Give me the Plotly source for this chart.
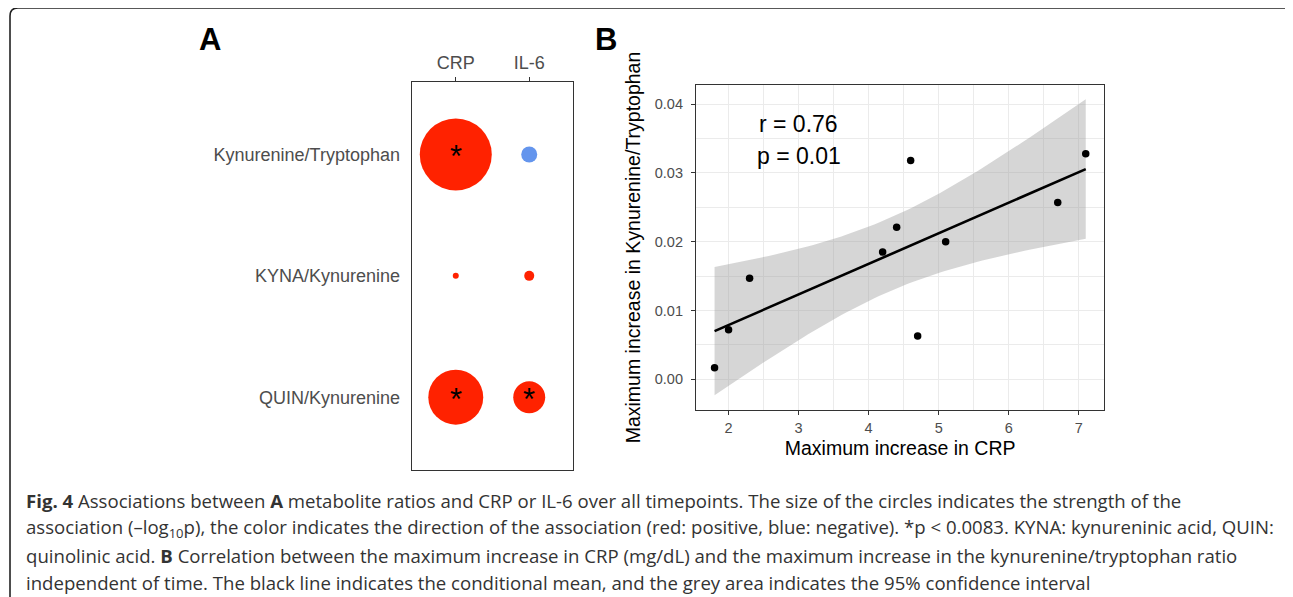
import numpy as np
import plotly.graph_objects as go

# ---------------- data ----------------
# Panel A: associations (strength = -log10 p, direction = sign)
metabolites = ["Kynurenine/Tryptophan", "KYNA/Kynurenine", "QUIN/Kynurenine"]
markers = ["CRP", "IL-6"]
strength_crp = [7.5, 0.5, 4.9]
strength_il6 = [1.03, 0.69, 2.27]
direction_crp = [1, 1, 1]
direction_il6 = [-1, 1, 1]
sig_threshold = 0.0083

# Panel B: max increase in CRP vs max increase in Kyn/Trp
crp_increase = [1.8, 2.0, 2.3, 4.2, 4.4, 4.6, 4.7, 5.1, 6.7, 7.1]
kt_increase = [0.0017, 0.0072, 0.0147, 0.0185, 0.0221, 0.0318, 0.0063, 0.0200, 0.0257, 0.0328]
stat_labels = ["r = 0.76", "p = 0.01"]
xticks_b = [2, 3, 4, 5, 6, 7]
yticks_b = [0.00, 0.01, 0.02, 0.03, 0.04]

caption_lines = [
    "<b>Fig. 4</b> Associations between <b>A</b> metabolite ratios and CRP or IL-6 over all timepoints. The size of the circles indicates the strength of the",
    "association (\u2013log<sub>10</sub>p), the color indicates the direction of the association (red: positive, blue: negative). *p &lt; 0.0083. KYNA: kynureninic acid, QUIN:",
    "quinolinic acid. <b>B</b> Correlation between the maximum increase in CRP (mg/dL) and the maximum increase in the kynurenine/tryptophan ratio",
    "independent of time. The black line indicates the conditional mean, and the grey area indicates the 95% confidence interval",
]

# ---------------- layout helpers ----------------
W, H = 1293, 597
OX, OY = 8, 8   # page body margin offset
def px(x):
    return (x - OX) / W
def py(y):
    return 1 - (y - OY) / H

FONT = "Liberation Sans, Arial, sans-serif"
RED = "#FF2200"
BLUE = "#6495ED"

fig = go.Figure()

# ---------------- Panel A ----------------
all_strength = strength_crp + strength_il6
smin, smax = np.sqrt(min(all_strength)), np.sqrt(max(all_strength))
dmin, dmax = 6.0, 72.0
def diam(v):
    return dmin + (dmax - dmin) * (np.sqrt(v) - smin) / (smax - smin)

xs, ys, sizes, colors = [], [], [], []
for m, svals, dvals in [("CRP", strength_crp, direction_crp), ("IL-6", strength_il6, direction_il6)]:
    for met, s, d in zip(metabolites, svals, dvals):
        xs.append(m)
        ys.append(met)
        sizes.append(diam(s))
        colors.append(RED if d > 0 else BLUE)

fig.add_trace(go.Scatter(
    x=xs, y=ys, mode="markers", xaxis="x", yaxis="y",
    marker=dict(size=sizes, color=colors, line=dict(width=0), opacity=1),
    showlegend=False, hoverinfo="skip",
))

thr = -np.log10(sig_threshold)
for x, y, s in zip(xs, ys, all_strength):
    if s > thr:
        fig.add_annotation(x=x, y=y, xref="x", yref="y", text="*", showarrow=False,
                           font=dict(family=FONT, size=31, color="black"), yshift=-2)

# ---------------- Panel B ----------------
xb = np.array(crp_increase)
yb = np.array(kt_increase)
n = len(xb)
slope, intercept = np.polyfit(xb, yb, 1)
grid = np.linspace(xb.min(), xb.max(), 80)
fit = intercept + slope * grid
resid = yb - (intercept + slope * xb)
s_err = np.sqrt(np.sum(resid ** 2) / (n - 2))
sxx = np.sum((xb - xb.mean()) ** 2)
tcrit = 2.306004  # t(0.975, df=8)
se = s_err * np.sqrt(1.0 / n + (grid - xb.mean()) ** 2 / sxx)
upper = fit + tcrit * se
lower = fit - tcrit * se

fig.add_trace(go.Scatter(
    x=np.concatenate([grid, grid[::-1]]), y=np.concatenate([upper, lower[::-1]]),
    fill="toself", fillcolor="rgba(153,153,153,0.4)", line=dict(width=0),
    mode="lines", xaxis="x2", yaxis="y2", showlegend=False, hoverinfo="skip",
))
fig.add_trace(go.Scatter(
    x=grid, y=fit, mode="lines", line=dict(color="black", width=2.6),
    xaxis="x2", yaxis="y2", showlegend=False, hoverinfo="skip",
))
fig.add_trace(go.Scatter(
    x=xb, y=yb, mode="markers", marker=dict(color="black", size=7.5),
    xaxis="x2", yaxis="y2", showlegend=False, hoverinfo="skip",
))

for i, lab in enumerate(stat_labels):
    fig.add_annotation(x=3.0, y=[0.03715, 0.0324][i], xref="x2", yref="y2", text=lab,
                       showarrow=False, font=dict(family=FONT, size=23, color="black"))

# ---------------- layout ----------------
axis_line = dict(showline=True, mirror=True, linecolor="#333333", linewidth=1.2, zeroline=False)

fig.update_layout(
    width=W, height=H,
    margin=dict(l=0, r=0, t=0, b=0),
    paper_bgcolor="white", plot_bgcolor="white",
    showlegend=False,
    xaxis=dict(
        domain=[px(411.7), px(573.3)], anchor="y", type="category",
        categoryorder="array", categoryarray=markers, range=[-0.6, 1.6],
        side="top", ticks="outside", ticklen=4, tickwidth=1.2, tickcolor="#333333",
        showgrid=False, tickfont=dict(family=FONT, size=18, color="#4D4D4D"),
        fixedrange=True, **axis_line,
    ),
    yaxis=dict(
        domain=[py(470), py(81.7)], anchor="x", type="category",
        categoryorder="array", categoryarray=metabolites[::-1], range=[-0.6, 2.6],
        ticks="outside", ticklen=7, tickcolor="rgba(0,0,0,0)",
        showgrid=False, tickfont=dict(family=FONT, size=18, color="#4D4D4D"),
        fixedrange=True, **axis_line,
    ),
    xaxis2=dict(
        domain=[px(696), px(1104.3)], anchor="y2", range=[1.535, 7.365],
        tickvals=xticks_b, ticktext=[str(v) for v in xticks_b],
        ticks="outside", ticklen=4, tickwidth=1.1, tickcolor="#333333",
        showgrid=True, gridcolor="#EBEBEB", gridwidth=1.1,
        minor=dict(showgrid=True, gridcolor="#EBEBEB", gridwidth=0.55, tick0=1.5, dtick=1),
        tickfont=dict(family=FONT, size=14.5, color="#4D4D4D"),
        title=dict(text="Maximum increase in CRP", font=dict(family=FONT, size=19.5, color="black"), standoff=6),
        fixedrange=True, **axis_line,
    ),
    yaxis2=dict(
        domain=[py(410), py(85)], anchor="x2", range=[-0.00445, 0.04279],
        tickvals=yticks_b, ticktext=[f"{v:.2f}" for v in yticks_b],
        ticks="outside", ticklen=4, tickwidth=1.1, tickcolor="#333333",
        ticklabelstandoff=5,
        showgrid=True, gridcolor="#EBEBEB", gridwidth=1.1,
        minor=dict(showgrid=True, gridcolor="#EBEBEB", gridwidth=0.55, tick0=0.005, dtick=0.01),
        tickfont=dict(family=FONT, size=14.5, color="#4D4D4D"),
        title=dict(text="Maximum increase in Kynurenine/Tryptophan", font=dict(family=FONT, size=19.5, color="black"), standoff=8),
        fixedrange=True, **axis_line,
    ),
)

# panel letters
fig.add_annotation(x=px(210), y=py(39), xref="paper", yref="paper", text="<b>A</b>", showarrow=False,
                   font=dict(family=FONT, size=31, color="black"), xanchor="center", yanchor="middle")
fig.add_annotation(x=px(606), y=py(39), xref="paper", yref="paper", text="<b>B</b>", showarrow=False,
                   font=dict(family=FONT, size=31, color="black"), xanchor="center", yanchor="middle")

# caption
for i, line in enumerate(caption_lines):
    fig.add_annotation(x=px(24), y=py(501 + 27.3 * i), xref="paper", yref="paper", text=line,
                       showarrow=False, xanchor="left", yanchor="middle", align="left",
                       font=dict(family="Open Sans, sans-serif", size=18.6, color="#333333"))

# rounded outer frame
def P(x, y):
    return f"{px(x):.5f},{py(y):.5f}"
frame = (f"M {P(10, 640)} L {P(10, 16)} Q {P(10, 8)} {P(18, 8)} "
         f"L {P(1285, 8)} Q {P(1293, 8)} {P(1293, 16)} L {P(1293, 640)}")
fig.add_shape(type="path", path=frame, xref="paper", yref="paper",
              line=dict(color="#222222", width=1.6), layer="above")

fig.write_html("out.html")
